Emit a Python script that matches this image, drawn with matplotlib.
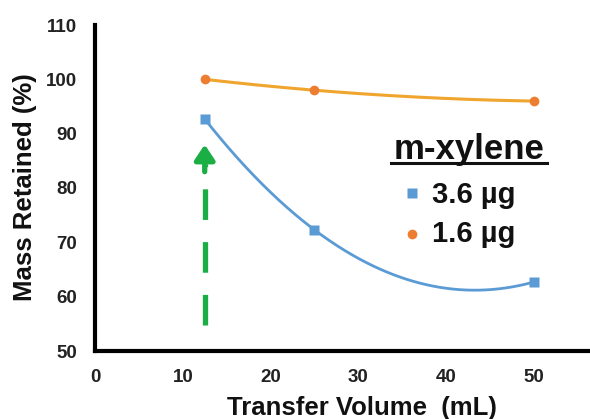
import numpy as np
import matplotlib
matplotlib.use("Agg")
import matplotlib.pyplot as plt
from matplotlib.lines import Line2D

plt.rcParams['font.family'] = ['Liberation Sans', 'DejaVu Sans']

volume = [12.5, 25, 50]
mass_36 = [92.7, 72.3, 62.7]
mass_16 = [100.0, 98.0, 96.0]
xticks = [0, 10, 20, 30, 40, 50]
yticks = [50, 60, 70, 80, 90, 100, 110]

blue = '#5B9BD5'
orange_m = '#ED7D31'
orange_l = '#EFA52E'
green = '#1AAE45'

W, H = 590, 419
fig = plt.figure(figsize=(W / 100, H / 100), dpi=100)
ax = fig.add_axes([95 / W, (H - 351) / H, (W - 95) / W, (351 - 25) / H])
ax.set_xlim(0, 56.4)
ax.set_ylim(50, 110)

def smooth(x, y):
    c = np.polyfit(x, y, 2)
    xs = np.linspace(x[0], x[-1], 200)
    return xs, np.polyval(c, xs)

xs, ys = smooth(volume, mass_16)
ax.plot(xs, ys, color=orange_l, lw=2.2, zorder=3, solid_capstyle='round')
ax.plot(volume, mass_16, 'o', color=orange_m, ms=7, zorder=4, mec='none')

xs, ys = smooth(volume, mass_36)
ax.plot(xs, ys, color=blue, lw=2.0, zorder=3)
ax.plot(volume, mass_36, 's', color=blue, ms=7, zorder=4, mec='none')

# green dashed arrow
ax.plot([12.5, 12.5], [54.8, 84.5], color=green, lw=3.8, dashes=(5.8, 4.2), zorder=2)
ax.annotate('', xy=(12.5, 88.0), xytext=(12.5, 83.0),
            arrowprops=dict(arrowstyle='-|>,head_length=0.9,head_width=0.6',
                            color=green, lw=3.8, shrinkA=0, shrinkB=0))

for s in ['top', 'right']:
    ax.spines[s].set_visible(False)
for s in ['left', 'bottom']:
    ax.spines[s].set_linewidth(3.0)
    ax.spines[s].set_color('black')
ax.set_xticks(xticks)
ax.set_yticks(yticks)
ax.tick_params(length=0, labelsize=13.5, pad=13)
for lab in ax.get_xticklabels() + ax.get_yticklabels():
    lab.set_fontweight('bold')
    lab.set_color('#222222')

fig.text(25 / W, 1 - 187 / H, 'Mass Retained (%)', rotation=90, ha='center', va='center',
         fontsize=18.5, fontweight='bold', color='#111111')
fig.text(362 / W, 1 - 408 / H, 'Transfer Volume  (mL)', ha='center', va='center',
         fontsize=18.5, fontweight='bold', color='#111111')

# legend
fig.text(469 / W, 1 - 150 / H, 'm-xylene', ha='center', va='center',
         fontsize=25, fontweight='bold', color='#111111')
fig.add_artist(Line2D([391 / W, 547 / W], [1 - 163 / H, 1 - 163 / H],
                      transform=fig.transFigure, color='#111111', lw=2.2))
fig.text(432 / W, 1 - 195 / H, '3.6 µg', ha='left', va='center',
         fontsize=21, fontweight='bold', color='#111111')
fig.text(432 / W, 1 - 234 / H, '1.6 µg', ha='left', va='center',
         fontsize=21, fontweight='bold', color='#111111')
fig.add_artist(Line2D([412 / W], [1 - 193 / H], transform=fig.transFigure,
                      marker='s', ms=7, color=blue, mec='none', ls='none'))
fig.add_artist(Line2D([412 / W], [1 - 234 / H], transform=fig.transFigure,
                      marker='o', ms=7, color=orange_m, mec='none', ls='none'))

fig.savefig('out.png', dpi=100)
